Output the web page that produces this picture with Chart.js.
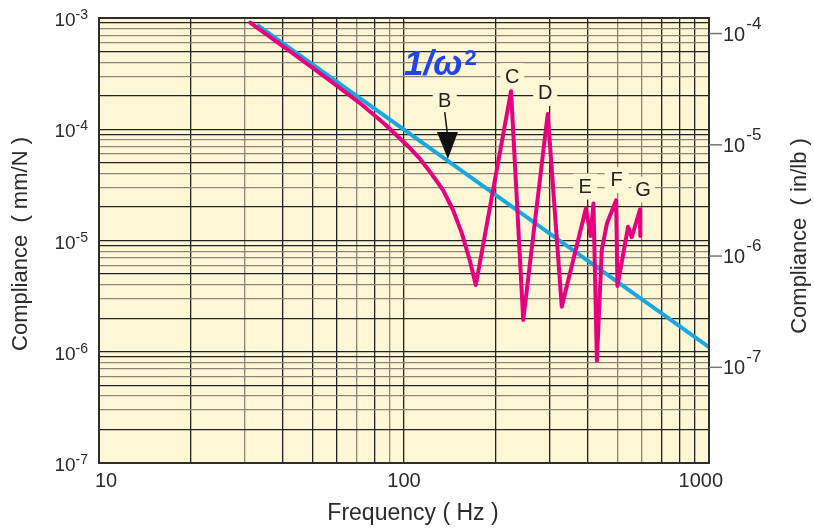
<!DOCTYPE html>
<html>
<head>
<meta charset="utf-8">
<style>
  html, body { margin: 0; padding: 0; background: #fff; }
  #wrap { width: 814px; height: 529px; }
</style>
<script src="https://cdn.jsdelivr.net/npm/chart.js@4.4.1/dist/chart.umd.min.js"></script>
</head>
<body>
<div id="wrap"><canvas id="chart" width="814" height="529"></canvas></div>
<script>
// measured compliance (mm/N) against frequency (Hz)
const measFreq = [31.3, 42.3, 57.2, 71.7, 86.6, 104.6, 112.9, 121.7, 134.3, 144.8, 154.6, 164.2, 172,
  224.4, 246, 296, 329, 395, 409, 418, 429, 445, 463, 496, 501, 543, 558, 594, 595];
const measComp = [9.08e-4, 5.0e-4, 2.74e-4, 1.72e-4, 1.11e-4, 6.78e-5, 5.41e-5, 4.15e-5, 2.84e-5, 1.88e-5, 1.17e-5, 6.68e-6, 3.98e-6,
  2.2e-4, 1.93e-6, 1.37e-4, 2.54e-6, 1.95e-5, 1.1e-5, 2.15e-5, 8.3e-7, 8.2e-6, 1.43e-5, 2.3e-5, 3.9e-6, 1.33e-5, 1.07e-5, 1.9e-5, 1.1e-5];

// 1/w^2 mass line
const massFreq = [33, 1000];
const massComp = [8.68e-4, 1.1e-6];

// axis labels
const freqTicks = [10, 100, 1000];
const compTicks = [1e-7, 1e-6, 1e-5, 1e-4, 1e-3];
const inlbTicks = [1e-7, 1e-6, 1e-5, 1e-4];
const inlbRange = [1.38e-8, 1.38e-4];

// resonance markers
const peakNames = ['B', 'C', 'D', 'E', 'F', 'G'];
const peakFreq = [136, 226.5, 290.4, 392.6, 497.7, 608];
const peakComp = [1.83e-4, 3.0e-4, 2.12e-4, 3.05e-5, 3.5e-5, 2.86e-5];
const arrowTip = {freq: 139.3, comp: 5.4e-5};
const massLabel = {freq: 100, comp: 3.07e-4};

const FONT = '"Liberation Sans", Arial, Helvetica, sans-serif';
const PAPER = '#FEF7D6';
const DARK = '#222222';
const GREY = '#8c8677';

function mant(v) {
  const e = Math.floor(Math.log10(v) + 1e-9);
  const m = Math.round(v / Math.pow(10, e));
  return m === 10 ? 1 : m;
}

function decadeTicks(lo, hi) {
  const out = [];
  for (let e = lo; e < hi; e++) {
    for (let m = 1; m <= 9; m++) out.push({value: m * Math.pow(10, e)});
  }
  out.push({value: Math.pow(10, hi)});
  return out;
}

const greyFreq = [30, 70, 90, 500, 600];

const paper = {
  id: 'paper',
  beforeDraw(chart) {
    const {ctx, chartArea: a} = chart;
    ctx.save();
    ctx.fillStyle = PAPER;
    ctx.fillRect(a.left, a.top, a.right - a.left, a.bottom - a.top);
    ctx.restore();
  },
  beforeDatasetsDraw(chart) {
    const {ctx, scales: {x, y}} = chart;
    ctx.save();
    ctx.font = '20px ' + FONT;
    ctx.textAlign = 'center';
    ctx.textBaseline = 'middle';
    peakNames.forEach((name, i) => {
      const px = x.getPixelForValue(peakFreq[i]);
      const py = y.getPixelForValue(peakComp[i]);
      ctx.fillStyle = PAPER;
      ctx.fillRect(px - 12, py - 13, 24, 26);
      ctx.fillStyle = '#222';
      ctx.fillText(name, px, py + 1);
    });
    ctx.restore();
  },
  afterDatasetsDraw(chart) {
    const {ctx, chartArea: a, scales: {x, y}} = chart;
    ctx.save();

    // arrow from B down to the mass line
    const bx = x.getPixelForValue(peakFreq[0]);
    const by = y.getPixelForValue(peakComp[0]);
    const tx = x.getPixelForValue(arrowTip.freq);
    const ty = y.getPixelForValue(arrowTip.comp);
    ctx.strokeStyle = '#111';
    ctx.lineWidth = 1.5;
    ctx.beginPath();
    ctx.moveTo(bx, by + 12);
    ctx.lineTo(tx - 0.5, ty - 25);
    ctx.stroke();
    ctx.fillStyle = '#111';
    ctx.beginPath();
    ctx.moveTo(tx - 11, ty - 27);
    ctx.lineTo(tx + 10, ty - 27);
    ctx.lineTo(tx, ty);
    ctx.closePath();
    ctx.fill();

    // 1/w^2 label
    const mx = x.getPixelForValue(massLabel.freq);
    const my = y.getPixelForValue(massLabel.comp);
    ctx.fillStyle = '#1f45ee';
    ctx.textAlign = 'left';
    ctx.textBaseline = 'alphabetic';
    ctx.font = 'bold italic 35px ' + FONT;
    const base = '1/\u03C9';
    ctx.fillText(base, mx, my);
    const bw = ctx.measureText(base).width;
    ctx.font = 'bold 22px ' + FONT;
    ctx.fillText('2', mx + bw + 2, my - 10);

    // frame
    ctx.strokeStyle = '#2e2e2e';
    ctx.lineWidth = 2;
    ctx.strokeRect(a.left, a.top, a.right - a.left, a.bottom - a.top);
    ctx.restore();
  },
  afterDraw(chart) {
    const {ctx, chartArea: a, scales: {x, y, y2}} = chart;
    ctx.save();
    ctx.fillStyle = '#2a2a2a';
    ctx.textBaseline = 'alphabetic';

    // left tick labels
    compTicks.forEach(v => {
      const py = y.getPixelForValue(v);
      const sup = String(Math.round(Math.log10(v)));
      ctx.font = '14px ' + FONT;
      const sw = ctx.measureText(sup).width;
      ctx.textAlign = 'right';
      ctx.fillText(sup, a.left - 11, py + 1);
      ctx.font = '19px ' + FONT;
      ctx.fillText('10', a.left - 11 - sw, py + 8);
    });

    // right tick marks and labels
    inlbTicks.forEach(v => {
      const py = y2.getPixelForValue(v);
      ctx.strokeStyle = '#777';
      ctx.lineWidth = 1.5;
      ctx.beginPath();
      ctx.moveTo(a.right, py);
      ctx.lineTo(a.right + 13, py);
      ctx.stroke();
      ctx.textAlign = 'left';
      ctx.font = '20px ' + FONT;
      ctx.fillText('10', a.right + 14, py + 7);
      const w = ctx.measureText('10').width;
      ctx.font = '17px ' + FONT;
      ctx.fillText(String(Math.round(Math.log10(v))), a.right + 15 + w, py - 5);
    });

    // bottom tick labels
    ctx.font = '20px ' + FONT;
    freqTicks.forEach((v, i) => {
      const px = x.getPixelForValue(v);
      if (i === 0) { ctx.textAlign = 'left'; ctx.fillText(String(v), px - 4, a.bottom + 24); }
      else if (i === freqTicks.length - 1) { ctx.textAlign = 'right'; ctx.fillText(String(v), px + 14, a.bottom + 24); }
      else { ctx.textAlign = 'center'; ctx.fillText(String(v), px, a.bottom + 24); }
    });

    // titles
    ctx.textAlign = 'center';
    ctx.font = '23px ' + FONT;
    ctx.fillText('Frequency ( Hz )', (a.left + a.right) / 2 + 9, a.bottom + 57);

    ctx.font = '22px ' + FONT;
    ctx.textBaseline = 'middle';
    ctx.save();
    ctx.translate(21, 244);
    ctx.rotate(-Math.PI / 2);
    ctx.fillText('Compliance  ( mm/N )', 0, 0);
    ctx.restore();
    ctx.save();
    ctx.translate(800, 236);
    ctx.rotate(-Math.PI / 2);
    ctx.fillText('Compliance  ( in/lb )', 0, 0);
    ctx.restore();

    ctx.restore();
  }
};

new Chart(document.getElementById('chart'), {
  type: 'line',
  data: {
    datasets: [
      {
        label: 'measured',
        data: measFreq.map((f, i) => ({x: f, y: measComp[i]})),
        borderColor: '#e6007e',
        borderWidth: 4,
        borderJoinStyle: 'round',
        borderCapStyle: 'round',
        pointRadius: 0,
        tension: 0,
        yAxisID: 'y'
      },
      {
        label: '1/w2',
        data: massFreq.map((f, i) => ({x: f, y: massComp[i]})),
        borderColor: '#17a8e2',
        borderWidth: 4,
        pointRadius: 0,
        tension: 0,
        yAxisID: 'y'
      }
    ]
  },
  options: {
    responsive: false,
    animation: false,
    devicePixelRatio: 1,
    layout: {padding: {top: 18, left: 0, right: 0, bottom: 0}},
    plugins: {legend: {display: false}, tooltip: {enabled: false}},
    scales: {
      x: {
        type: 'logarithmic',
        min: 10,
        max: 1000,
        afterBuildTicks: s => { s.ticks = decadeTicks(1, 3); },
        afterFit: s => { s.height = 66; },
        ticks: {display: false},
        border: {display: false},
        grid: {
          drawTicks: false,
          lineWidth: 1.3,
          color: c => greyFreq.includes(Math.round(c.tick.value)) ? GREY : DARK
        }
      },
      y: {
        type: 'logarithmic',
        position: 'left',
        min: 1e-7,
        max: 1e-3,
        afterBuildTicks: s => { s.ticks = decadeTicks(-7, -3); },
        afterFit: s => { s.width = 99; },
        ticks: {display: false},
        border: {display: false},
        grid: {
          drawTicks: false,
          lineWidth: 1.3,
          color: c => [3, 4, 6, 7, 8].includes(mant(c.tick.value)) ? GREY : DARK
        }
      },
      y2: {
        type: 'logarithmic',
        position: 'right',
        min: inlbRange[0],
        max: inlbRange[1],
        afterFit: s => { s.width = 105; },
        ticks: {display: false},
        border: {display: false},
        grid: {display: false}
      }
    }
  },
  plugins: [paper]
});
</script>
</body>
</html>
